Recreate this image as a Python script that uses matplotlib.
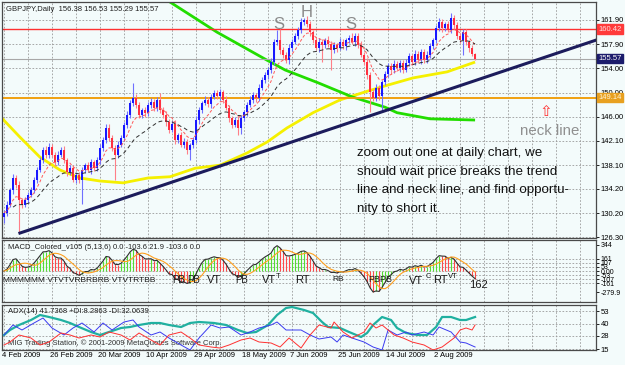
import numpy as np
import pandas as pd
import matplotlib
matplotlib.use("Agg")
import matplotlib.pyplot as plt
from matplotlib.transforms import blended_transform_factory


# =========================
# DATA
# =========================

first_open = 129.6

closes = [
    130.3, 131.6, 134.0, 136.0, 134.9, 132.4, 131.6, 132.4, 133.2, 134.0,
    135.7, 137.3, 138.9, 140.6, 139.8, 141.1, 139.8, 138.6, 139.8, 140.6,
    138.9, 137.0, 137.6, 135.7, 136.5, 135.7, 137.3, 138.1, 137.3, 138.6,
    137.6, 138.9, 140.9, 142.2, 144.2, 142.6, 140.9, 139.8, 141.4, 142.6,
    144.7, 146.3, 148.3, 149.1, 148.0, 146.3, 147.1, 146.6, 148.0, 148.5,
    147.5, 148.8, 147.1, 146.3, 145.2, 143.9, 144.9, 142.2, 143.0, 141.4,
    141.9, 140.6, 141.4, 142.2, 145.5, 147.1, 148.3, 148.8, 148.1, 149.3,
    149.9, 149.4, 150.1, 148.8, 147.5, 145.8, 144.7, 145.5, 144.2, 145.8,
    146.8, 148.0, 148.8, 149.6, 149.1, 150.8, 152.1, 152.9, 153.7, 155.0,
    158.3, 158.6, 157.0, 156.2, 155.3, 157.3, 158.3, 159.3, 160.3, 161.6,
    161.9, 161.2, 159.9, 158.6, 157.3, 158.3, 157.8, 158.6, 157.9, 157.0,
    157.8, 157.3, 158.3, 157.6, 158.6, 158.9, 158.3, 159.3, 157.8, 156.2,
    155.0, 152.9, 150.1, 149.1, 150.8, 149.4, 151.7, 153.0, 154.4, 153.7,
    154.7, 154.0, 154.9, 153.7, 154.9, 156.0, 155.0, 156.3, 155.3, 156.7,
    155.3, 156.2, 157.6, 158.6, 160.6, 161.6, 160.6, 161.2, 160.3, 162.2,
    161.0, 159.3, 158.6, 159.9, 158.3, 157.3, 156.38, 155.57,
]

wick_up = [
    0.5, 0.6, 0.4, 0.7, 0.5, 0.6, 0.3, 0.4, 0.5, 0.6,
    0.4, 0.5, 0.6, 0.5, 0.7, 0.7, 0.4, 0.5, 0.6, 0.5,
    0.6, 0.4, 0.5, 0.6, 0.4, 0.5, 0.5, 0.4, 0.6, 0.5,
    0.4, 0.5, 0.6, 0.5, 0.7, 0.6, 0.4, 0.5, 0.6, 0.5,
    0.5, 0.6, 0.5, 2.5, 0.6, 0.5, 0.4, 0.6, 0.5, 0.6,
    0.5, 0.4, 1.1, 0.5, 0.6, 0.4, 0.5, 0.6, 0.4, 0.5,
    0.6, 0.5, 0.4, 0.5, 0.6, 0.5, 0.4, 0.6, 0.5, 0.4,
    0.5, 0.6, 0.5, 0.4, 0.6, 0.5, 0.4, 0.5, 0.6, 0.5,
    0.4, 0.5, 0.6, 0.5, 0.4, 0.6, 0.5, 0.4, 0.5, 0.6,
    0.5, 1.7, 1.8, 0.5, 0.4, 0.6, 0.5, 0.4, 0.5, 0.6,
    0.4, 0.6, 0.5, 0.4, 0.5, 0.6, 0.5, 0.4, 0.6, 0.5,
    0.5, 0.4, 0.6, 0.5, 0.4, 0.5, 0.9, 0.5, 0.4, 0.6,
    0.5, 0.6, 0.4, 0.5, 0.6, 0.5, 0.4, 0.6, 0.5, 0.4,
    0.6, 0.5, 0.4, 0.5, 0.6, 0.5, 0.4, 0.6, 0.5, 0.4,
    0.5, 0.6, 0.5, 0.4, 0.5, 0.6, 0.5, 0.4, 0.5, 0.8,
    0.6, 0.5, 0.4, 0.6, 0.5, 0.4, 0.5, 0.15,
]

wick_dn = [
    1.0, 0.5, 0.4, 0.6, 0.5, 5.5, 0.6, 0.4, 0.5, 0.4,
    0.5, 0.6, 0.4, 0.5, 0.6, 0.5, 0.4, 0.6, 0.5, 0.4,
    0.5, 0.6, 0.5, 0.4, 0.6, 0.5, 3.9, 0.5, 0.4, 0.6,
    0.5, 0.4, 0.6, 0.5, 0.4, 0.6, 0.5, 4.1, 0.5, 0.4,
    0.6, 0.5, 0.4, 0.5, 0.6, 0.4, 0.5, 0.6, 0.4, 0.5,
    0.6, 0.5, 0.4, 0.5, 0.6, 0.5, 0.4, 0.6, 0.5, 0.4,
    0.5, 0.6, 1.6, 0.5, 0.4, 0.6, 0.5, 0.4, 0.5, 0.6,
    0.4, 0.5, 0.6, 0.5, 0.4, 0.6, 0.5, 0.4, 1.2, 1.0,
    0.5, 0.6, 0.4, 0.5, 0.6, 0.5, 0.4, 0.5, 0.6, 0.5,
    0.4, 0.5, 0.6, 0.5, 0.4, 0.6, 0.5, 0.4, 0.5, 0.6,
    0.5, 0.4, 0.6, 0.5, 0.4, 0.6, 2.8, 0.5, 0.4, 3.3,
    0.5, 0.6, 0.4, 0.5, 0.6, 0.5, 0.4, 0.6, 0.5, 0.4,
    0.5, 0.6, 3.3, 0.5, 0.4, 0.6, 2.3, 0.5, 0.4, 0.6,
    0.5, 0.4, 0.6, 0.5, 0.4, 0.6, 0.5, 0.4, 0.5, 0.6,
    0.4, 0.5, 0.6, 0.5, 0.4, 0.5, 0.6, 0.5, 0.4, 0.5,
    0.6, 0.5, 0.4, 2.4, 0.5, 0.6, 0.4, 0.28,
]

# long moving averages (history before Feb 2009 not on the chart)
yellow_bar = [-0.7, 5.3, 12, 18.7, 25.3, 32, 39.7, 48, 55.3, 63.7, 72,
              81, 87.7, 94.3, 103, 112, 120.3, 127, 136.3, 147.7, 157]
yellow_price = [145.8, 142.7, 139.4, 137.3, 136.0, 135.5, 135.2, 136.0, 136.2, 137.6, 138.1,
                140.1, 141.9, 144.2, 146.7, 148.8, 150.1, 151.1, 152.4, 153.4, 155.0]

green_bar = [52, 55.3, 71, 87.7, 93.7, 104.7, 116, 127, 131, 142, 157]
green_price = [165.7, 164.85, 159.9, 155.3, 153.7, 151.6, 149.3, 147.6, 146.7, 145.7, 145.5]

trend_bar = [5.3, 197.3]
trend_price = [126.97, 158.6]

level_resist = 160.42
level_last = 155.57
level_neck = 149.14

price_ticks = [161.90, 157.90, 154.00, 150.00, 146.00, 142.10, 138.10, 134.20, 130.20, 126.30]

date_labels = ["4 Feb 2009", "26 Feb 2009", "20 Mar 2009", "10 Apr 2009", "29 Apr 2009",
               "18 May 2009", "7 Jun 2009", "25 Jun 2009", "14 Jul 2009", "2 Aug 2009"]

macd_ticks = [344, 161, 107, 53, 0, -53, -107, -161, -279.9]
macd_tick_labels = ["344", "161", "107", "53", "0.00", "-53", "-107", "-161", "-279.9"]

adx_bar = [0, 2, 5, 9, 12, 15, 19, 22, 25, 29, 32, 35, 39, 42, 45, 49, 52, 55, 59, 62,
           65, 70, 74, 78, 81, 84, 88, 91, 94, 96, 100, 103, 106, 108, 112, 115, 119, 121, 123, 126,
           129, 131, 134, 138, 141, 144, 146, 149, 152, 154, 157]
adx_val = [29, 34, 39, 44, 49, 47, 44, 41, 37, 32, 29, 32, 36, 37, 39, 41, 41, 39, 37, 41,
           42, 41, 39, 34, 31, 32, 39, 49, 56, 57, 54, 51, 42, 37, 36, 32, 27, 31, 39, 47,
           44, 36, 31, 29, 29, 37, 47, 47, 44, 44, 47]

pdi_bar = [0, 3, 6, 10, 13, 16, 20, 23, 26, 30, 33, 36, 40, 43, 45, 49, 52, 55, 59, 62,
           65, 69, 72, 75, 79, 82, 85, 89, 91, 94, 99, 102, 105, 109, 111, 113, 116, 120, 123, 126,
           128, 131, 134, 136, 140, 143, 145, 149, 152, 154, 157]
pdi_val = [29, 39, 34, 41, 46, 36, 29, 36, 41, 32, 41, 34, 42, 44, 37, 29, 32, 26, 19, 14,
           26, 39, 36, 37, 29, 32, 36, 39, 42, 34, 34, 29, 25, 27, 22, 29, 26, 22, 17, 14,
           34, 29, 32, 29, 32, 29, 37, 32, 22, 21, 17]

mdi_bar = [0, 2, 5, 9, 12, 15, 19, 22, 25, 29, 32, 35, 39, 42, 45, 49, 52, 55, 59, 62,
           65, 69, 72, 75, 79, 82, 85, 89, 92, 95, 99, 102, 105, 109, 110, 113, 116, 120, 122, 124,
           126, 130, 133, 136, 140, 143, 146, 150, 152, 154, 156, 157]
mdi_val = [19, 22, 29, 26, 19, 22, 31, 29, 26, 29, 27, 32, 29, 24, 31, 24, 19, 29, 32, 26,
           19, 17, 16, 19, 24, 26, 22, 21, 17, 26, 16, 29, 39, 36, 42, 32, 26, 32, 41, 36,
           39, 29, 26, 22, 19, 14, 17, 26, 34, 36, 34, 39]

adx_ticks = [53, 40, 28, 15]

# signal labels printed by MACD_Colored (bar, value, text, size)
macd_marks = [
    (-0.3, -125, "MMMMMM VTVTVRBRBRB VTVTRTBB", 6.0),
    (56, -118, "PB", 7.0),
    (61, -118, "PB", 7.0),
    (67.5, -125, "VT", 8.0),
    (77, -118, "PB", 7.0),
    (86, -125, "VT", 8.0),
    (90.5, -75, "T", 5.5),
    (97, -125, "RT", 8.0),
    (109.5, -115, "RB", 6.0),
    (121.5, -118, "PBPB", 6.5),
    (135, -130, "VT", 8.0),
    (140.5, -70, "C", 5.5),
    (143, -125, "RT", 8.0),
    (148, -75, "VT", 5.5),
    (155, -185, "162", 8.0),
]


# =========================
# STYLE
# =========================

BG = "#f3fbfb"
GRID = "#9a9a9a"
FRAME = "#4a4a4a"
BLUE = "#1818ff"
RED = "#ff3040"
FONT = "Liberation Sans"

X_MIN, X_MAX = -0.67, 197.3
grid_x = list(range(0, 198, 8))


def style_panel(ax, labelsize=5.5):
    ax.set_facecolor(BG)
    ax.set_xlim(X_MIN, X_MAX)
    for s in ax.spines.values():
        s.set_color(FRAME)
        s.set_linewidth(0.9)
    ax.yaxis.tick_right()
    ax.tick_params(axis="y", labelsize=labelsize, length=2, pad=1.5, colors="black", width=0.6)
    ax.tick_params(axis="x", length=0, labelbottom=False)
    ax.set_xticks(grid_x)
    for x in grid_x:
        ax.axvline(x, color=GRID, lw=0.6, ls=(0, (2, 2)), zorder=0)


def set_tick_font(ax):
    for lab in ax.get_yticklabels():
        lab.set_fontfamily(FONT)


# =========================
# FIGURE
# =========================

plt.rcParams["font.family"] = [FONT, "DejaVu Sans"]

fig = plt.figure(figsize=(6.25, 3.65), dpi=100)
fig.patch.set_facecolor(BG)

W, H = 625.0, 365.0
ax = fig.add_axes([2 / W, 1 - 238 / H, 594 / W, 236 / H])
ax_m = fig.add_axes([2 / W, 1 - 302 / H, 594 / W, 62 / H])
ax_a = fig.add_axes([2 / W, 1 - 350 / H, 594 / W, 45 / H])

# ---------- price panel ----------
style_panel(ax)
ax.set_ylim(126.16, 164.85)
ax.set_yticks(price_ticks)
ax.set_yticklabels([f"{t:.2f}" for t in price_ticks])
set_tick_font(ax)
for t in price_ticks:
    ax.axhline(t, color=GRID, lw=0.6, ls=(0, (2, 2)), zorder=0)

c = np.array(closes)
o = np.r_[first_open, c[:-1]]
hi = np.maximum(o, c) + np.array(wick_up)
lo = np.minimum(o, c) - np.array(wick_dn)
idx = np.arange(len(c))
up = c >= o

body_col = np.where(up, BLUE, RED)
wick_col = np.where(up, "#6f6fff", "#ff7f88")
ax.vlines(idx, lo, hi, colors=wick_col, lw=0.8, zorder=3)
body_h = np.maximum(np.abs(c - o), 0.15)
ax.bar(idx, body_h, bottom=np.minimum(o, c), width=0.62, color=body_col, lw=0, zorder=4)

# short / medium moving averages derived from the closes
cs = pd.Series(closes)
ma_fast = cs.ewm(span=8, adjust=False).mean()
ma_mid = cs.ewm(span=21, adjust=False).mean()
ax.plot(idx, ma_fast, color="#ff5a5a", lw=0.7, ls=(0, (3, 2)), zorder=5)
ax.plot(idx[3:], ma_mid[3:], color="#303030", lw=0.7, ls=(0, (4, 3)), zorder=5)

ax.plot(yellow_bar, yellow_price, color="#f5f000", lw=2.0, zorder=2, solid_capstyle="butt")
ax.plot(green_bar, green_price, color="#22dd00", lw=2.0, zorder=2, solid_capstyle="butt")
ax.plot(trend_bar, trend_price, color="#1c1c5c", lw=2.2, zorder=6)

ax.axhline(level_resist, color="#ff3030", lw=1.0, zorder=2)
ax.axhline(level_last, color="#a8a8a8", lw=0.8, zorder=2)
ax.axhline(level_neck, color="#f0a010", lw=1.4, zorder=2)

tr = blended_transform_factory(ax.transAxes, ax.transData)
for val, fc, tc in [(level_resist, "#ff3a3a", "#ffe0e0"),
                    (level_last, "#1c1c6c", "white"),
                    (level_neck, "#e8a020", "#fff4d8")]:
    ax.text(1.004, val, f"{val:.2f}", transform=tr, fontsize=5.5, color=tc,
            ha="left", va="center", clip_on=False, zorder=10,
            bbox=dict(boxstyle="square,pad=0.15", fc=fc, ec=fc))

ax.text(0.006, 0.985, "GBPJPY,Daily  156.38 156.53 155.29 155.57", transform=ax.transAxes,
        fontsize=5.5, va="top", ha="left", color="#202020")

for bx, py, s in [(91.7, 161.2, "S"), (100.7, 163.1, "H"), (115.7, 161.2, "S")]:
    ax.text(bx, py, s, fontsize=12, color="#8a8a8a", ha="center", va="center", zorder=7)

ax.text(180.5, 146.9, "\u21e7", fontsize=11, color="#ff3030", ha="center", va="center",
        family="DejaVu Sans")
ax.text(181.7, 143.7, "neck line", fontsize=10.8, color="#909090", ha="center", va="center")

note = ("zoom out one at daily chart, we\n"
        "should wait price breaks the trend\n"
        "line and neck line, and find opportu-\n"
        "nity to short it.")
ax.text(117.5, 141.0, note, fontsize=9.6, color="#111111", ha="left", va="top",
        linespacing=1.72, zorder=8)

# ---------- MACD panel ----------
style_panel(ax_m, labelsize=5.0)
ax_m.set_ylim(-410, 410)
ax_m.set_yticks(macd_ticks)
ax_m.set_yticklabels(macd_tick_labels)
set_tick_font(ax_m)
for t in [161, 107, 53, 0, -53, -107, -161]:
    ax_m.axhline(t, color=GRID, lw=0.6, ls=(0, (2, 2)), zorder=0)

macd = (cs.ewm(span=5, adjust=False).mean() - cs.ewm(span=13, adjust=False).mean()) * 100
signal = macd.rolling(6, min_periods=1).mean()
rising = macd.diff().fillna(1) > 0
ax_m.vlines(idx, 0, macd, colors=np.where(rising, "#55dd33", "#ff4a4a"), lw=0.8, zorder=2)
ax_m.plot(idx, macd, color="#303030", lw=0.8, zorder=3)
ax_m.plot(idx, signal, color="#ffa020", lw=0.8, zorder=3)

ax_m.text(0.01, 0.93, "MACD_Colored_v105 (5,13,6) 0.0 -103.6 21.9 -103.6 0.0",
          transform=ax_m.transAxes, fontsize=5.5, va="top", ha="left", color="#202020")
for bx, val, s, fs in macd_marks:
    ax_m.text(bx, val, s, fontsize=fs, color="#1a1a1a", ha="left", va="center", zorder=5)

# ---------- ADX panel ----------
style_panel(ax_a)
ax_a.set_ylim(14, 59)
ax_a.set_yticks(adx_ticks)
ax_a.set_yticklabels([str(t) for t in adx_ticks])
set_tick_font(ax_a)
for t in adx_ticks:
    ax_a.axhline(t, color=GRID, lw=0.6, ls=(0, (2, 2)), zorder=0)

ax_a.plot(adx_bar, adx_val, color="#20b0a0", lw=1.6, zorder=3)
ax_a.plot(pdi_bar, pdi_val, color="#3a3af0", lw=0.7, zorder=4)
ax_a.plot(mdi_bar, mdi_val, color="#ff3030", lw=0.7, zorder=4)

ax_a.text(0.01, 0.93, "ADX(14) 41.7368 +DI:8.2863 -DI:32.0639", transform=ax_a.transAxes,
          fontsize=5.5, va="top", ha="left", color="#202020")
ax_a.text(0.01, 0.16, "MIG Trading Station, \u00a9 2001-2009 MetaQuotes Software Corp.",
          transform=ax_a.transAxes, fontsize=5.5, va="center", ha="left", color="#303030")

trd = blended_transform_factory(ax_a.transData, ax_a.transAxes)
for k, lab in enumerate(date_labels):
    ax_a.text(16 * k - 0.6, -0.05, lab, transform=trd, fontsize=5.5, va="top", ha="left",
              clip_on=False)

fig.savefig("out.png", dpi=100, facecolor=fig.get_facecolor())
